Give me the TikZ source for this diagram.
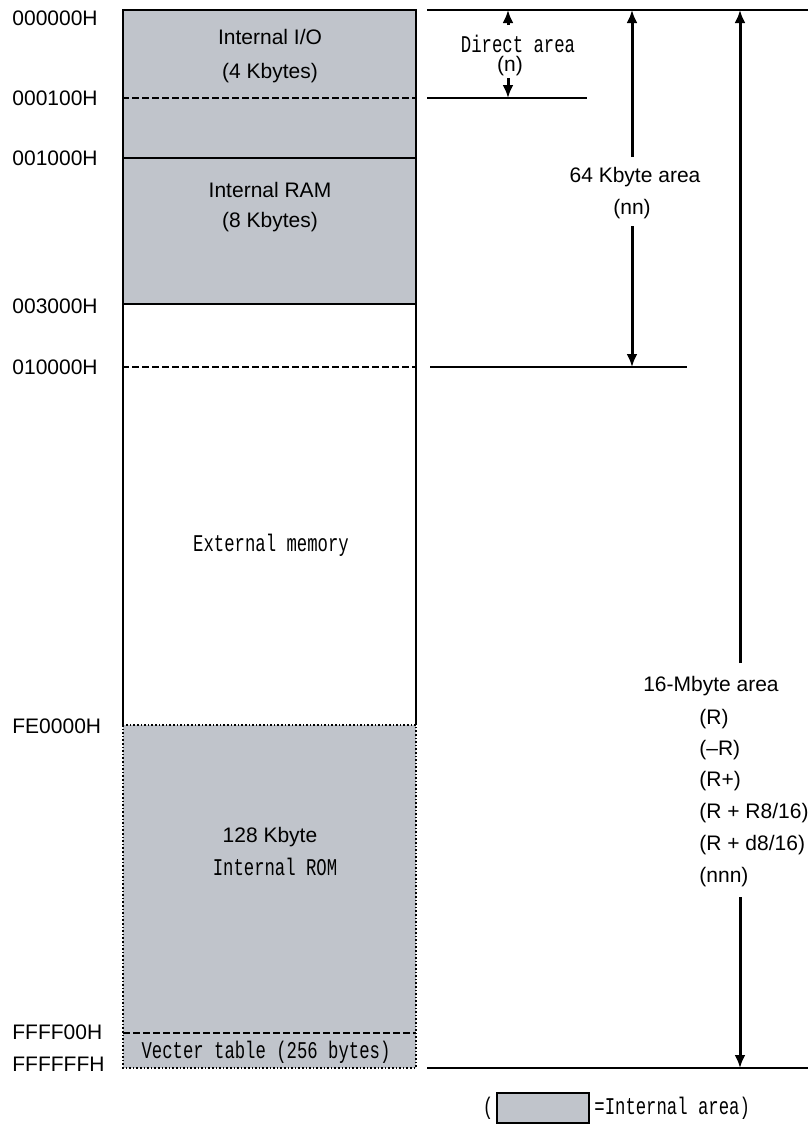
\documentclass[tikz,border=0pt]{standalone}
\usepackage{fontspec}
\setmainfont{Liberation Sans}
\newfontfamily\narrowmono[FakeStretch=0.72]{Liberation Mono}
\usetikzlibrary{arrows, arrows.meta, calc, positioning}
\definecolor{myAreaGray}{RGB}{192, 196, 203}
\tikzstyle{addr}= [anchor=west, inner sep=0pt, font=\fontsize{10.5}{12}\selectfont]
\tikzstyle{txt}= [inner sep=0pt, font=\fontsize{10.5}{12}\selectfont]
\tikzstyle{mono}= [inner sep=0pt, font=\fontsize{12}{14}\selectfont\narrowmono]
\tikzstyle{bound}= [line width=0.9pt, dash pattern=on 3.3pt off 1.7pt]
\tikzstyle{romedge}= [line width=0.8pt, densely dotted]
\tikzstyle{dim}= [line width=1.5pt]

\begin{document}
\begin{tikzpicture}[x=0.5pt, y=-0.5pt, >={Latex[length=6.5pt, width=5.5pt]}]
    \useasboundingbox (0,0) rectangle (808,1124);

    % internal areas
    \fill[myAreaGray] (123,10) rectangle (416,304);
    \fill[myAreaGray] (123,725) rectangle (416,1068);

    % memory map outline
    \draw[line width=0.6pt] (123,725) -- (123,10) -- (416,10) -- (416,725);
    \draw[line width=0.6pt] (123,158) -- (416,158);
    \draw[line width=0.6pt] (123,304) -- (416,304);
    \draw[romedge] (123,725) rectangle (416,1068);
    \draw[bound] (122,98) -- (416,98);
    \draw[bound] (122,367) -- (416,367);
    \draw[bound] (123,1033) -- (416,1033);

    % addresses
    \node [addr] (a0) at (12,18) {000000H};
    \node [addr] (a1) at (12,98) {000100H};
    \node [addr] (a2) at (12,158) {001000H};
    \node [addr] (a3) at (12,306) {003000H};
    \node [addr] (a4) at (12,367) {010000H};
    \node [addr] (a5) at (12,726) {FE0000H};
    \node [addr] (a6) at (12,1032) {FFFF00H};
    \node [addr] (a7) at (12,1064) {FFFFFFH};

    % area names
    \node [txt] (io) at (270,37) {Internal I/O};
    \node [txt] (ioSize) at (270,73) {(4 Kbytes)};
    \node [txt] (ram) at (270,190) {Internal RAM};
    \node [txt] (ramSize) at (270,222) {(8 Kbytes)};
    \node [mono] (ext) at (271,545) {External memory};
    \node [txt] (romSize) at (270,837) {128 Kbyte};
    \node [mono] (rom) at (275,867) {Internal ROM};
    \node [mono] (vect) at (266,1052) {Vecter table (256 bytes)};

    % boundary lines on the right
    \draw[line width=0.6pt] (427,10) -- (808,10);
    \draw[line width=0.6pt] (427,98) -- (587,98);
    \draw[line width=0.6pt] (430,367) -- (687,367);
    \draw[line width=0.6pt] (427,1068) -- (808,1068);

    % direct area
    \coordinate (dirTop) at (508,10);
    \coordinate (dirBot) at (508,98);
    \node [mono] (direct) at (518,44) {Direct area};
    \node [txt] (directN) at (510,66) {(n)};
    \draw[->, dim] ($(dirTop)+(0,15)$) -- (dirTop);
    \draw[->, dim] ($(dirBot)+(0,-20)$) -- (dirBot);

    % 64 Kbyte area
    \coordinate (kTop) at (632,10);
    \coordinate (kBot) at (632,367);
    \node [txt] (kArea) at (635,177) {64 Kbyte area};
    \node [txt] (kN) at (632,209) {(nn)};
    \draw[->, dim] ($(kTop)+(0,147)$) -- (kTop);
    \draw[->, dim] ($(kBot)+(0,-141)$) -- (kBot);

    % 16-Mbyte area
    \coordinate (mTop) at (740,10);
    \coordinate (mBot) at (740,1068);
    \node [txt] (mArea) at (711,686) {16-Mbyte area};
    \node [addr] (m1) at (699,719) {(R)};
    \node [addr] (m2) at (699,750) {(\textendash R)};
    \node [addr] (m3) at (699,781) {(R+)};
    \node [addr] (m4) at (699,813) {(R + R8/16)};
    \node [addr] (m5) at (699,845) {(R + d8/16)};
    \node [addr] (m6) at (699,877) {(nnn)};
    \draw[->, dim] ($(mTop)+(0,653)$) -- (mTop);
    \draw[->, dim] ($(mBot)+(0,-171)$) -- (mBot);

    % legend
    \node [mono] (lp) at (488,1108) {(};
    \draw[fill=myAreaGray, line width=0.6pt] (497,1093) rectangle (589,1123);
    \node [mono, anchor=west] (legend) at (594,1108) {=Internal area)};

\end{tikzpicture}
\end{document}
